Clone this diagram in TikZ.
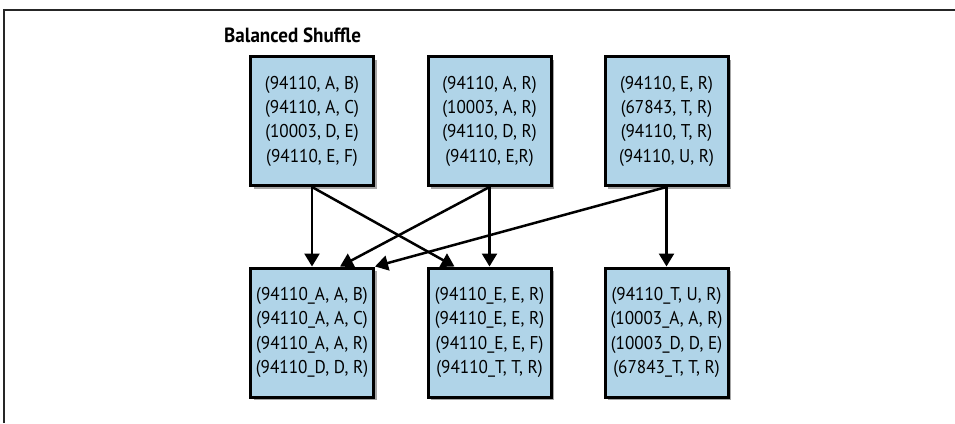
\documentclass[tikz,border=0pt]{standalone}
\usepackage{fontspec}
\setmainfont[FakeStretch=0.93]{PT Sans}
\usetikzlibrary{shadows,arrows.meta}
\definecolor{boxblue}{RGB}{176,212,232}
\begin{document}
\begin{tikzpicture}[x=1pt,y=-1pt,
  keybox/.style={draw=black,line width=3pt,fill=boxblue,
    minimum width=123pt,minimum height=129pt,inner sep=0pt,align=center,
    font=\fontsize{18.5}{24.3}\selectfont,
    drop shadow={shadow xshift=3pt,shadow yshift=-3pt,opacity=0.35,fill=black}},
  flow/.style={line width=2.5pt,-{Triangle[length=13pt,width=15pt]}}]
\useasboundingbox (0,0) rectangle (955,423);
\draw [line width=2pt,black!85] (4,423) -- (4,9.5) -- (955,9.5);
\node [anchor=west,inner sep=0pt,font=\bfseries\fontsize{20.5}{24}\selectfont] (title) at (224,35) {Balanced Shuffle};
% mappers
\node [keybox] (srca) at (312,121) {(94110, A, B)\\(94110, A, C)\\(10003, D, E)\\(94110, E, F)};
\node [keybox] (srcb) at (489.5,121) {(94110, A, R)\\(10003, A, R)\\(94110, D, R)\\(94110, E,R)};
\node [keybox] (srcc) at (666.5,121) {(94110, E, R)\\(67843, T, R)\\(94110, T, R)\\(94110, U, R)};
% reducers
\node [keybox] (dsta) at (312,332.5) {(94110\_A, A, B)\\(94110\_A, A, C)\\(94110\_A, A, R)\\(94110\_D, D, R)};
\node [keybox] (dstb) at (489.5,332.5) {(94110\_E, E, R)\\(94110\_E, E, R)\\(94110\_E, E, F)\\(94110\_T, T, R)};
\node [keybox] (dstc) at (666.5,332.5) {(94110\_T, U, R)\\(10003\_A, A, R)\\(10003\_D, D, E)\\(67843\_T, T, R)};
\draw [flow] (srca.south) -- (dsta.north);
\draw [flow] (srca.south) -- ([xshift=-35pt]dstb.north);
\draw [flow] (srcb.south) -- ([xshift=28pt]dsta.north);
\draw [flow] (srcb.south) -- (dstb.north);
\draw [flow] (srcc.south) -- (dsta.north east);
\draw [flow] (srcc.south) -- (dstc.north);
\end{tikzpicture}
\end{document}
